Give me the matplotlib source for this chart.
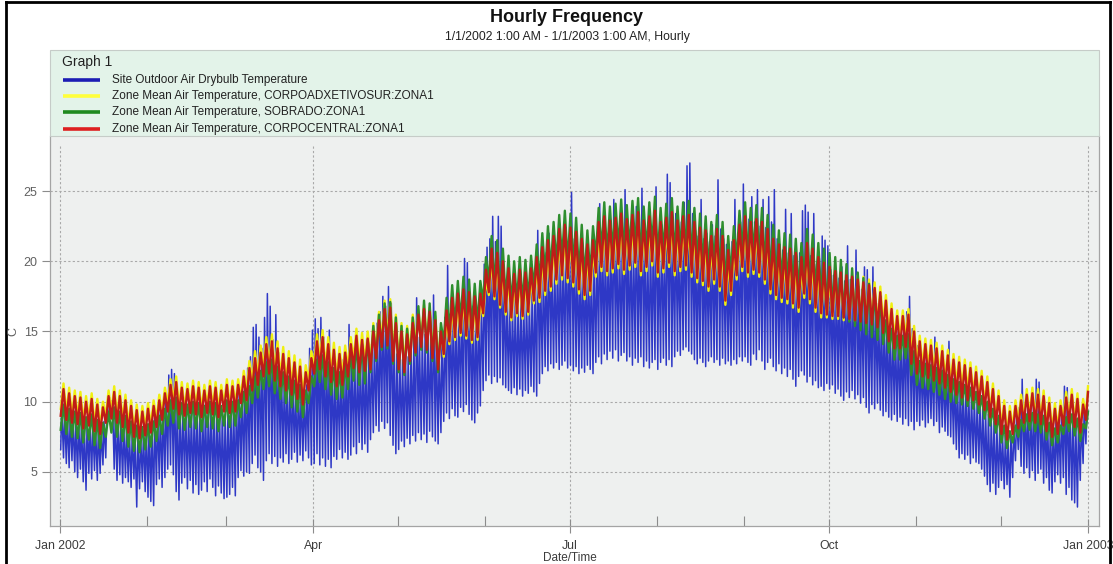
import numpy as np
import matplotlib
matplotlib.use("Agg")
import matplotlib.pyplot as plt
import matplotlib.dates as mdates
from matplotlib.lines import Line2D
from matplotlib.patches import Rectangle
from matplotlib.ticker import FuncFormatter

plt.rcParams['font.family'] = ['Liberation Sans', 'DejaVu Sans']

# ---------------------------------------------------------------------------
# Site outdoor dry-bulb temperature: daily minimum / maximum (deg C), 2002
# one line per month, Jan .. Dec
# ---------------------------------------------------------------------------
OUTDOOR_MIN = [
    6.6, 6.0, 5.6, 5.3, 5.8, 5.0, 4.6, 5.2, 4.3, 3.7, 4.9, 4.5, 5.1, 4.4, 4.9, 5.5, 6.0, 8.6, 8.9, 5.2, 4.4, 4.8, 4.2, 4.6, 4.3, 3.9, 4.5, 2.5, 3.8, 4.3, 3.6,
    3.2, 2.9, 2.6, 4.1, 4.5, 3.9, 4.6, 5.2, 5.5, 4.8, 3.6, 3.0, 4.2, 4.6, 3.8, 4.4, 3.5, 4.1, 3.4, 3.7, 4.3, 3.6, 4.5, 3.9, 3.3, 4.0, 3.5, 3.1,
    3.2, 3.4, 3.9, 3.3, 4.6, 5.1, 4.7, 5.0, 4.9, 5.6, 6.2, 5.3, 5.0, 4.4, 5.8, 6.3, 5.6, 6.1, 5.4, 6.0, 5.7, 6.3, 5.6, 5.9, 6.4, 5.7, 6.2, 5.8, 6.5, 6.0, 5.5,
    5.6, 6.3, 5.5, 6.0, 5.4, 5.9, 5.3, 6.1, 5.9, 6.6, 6.0, 6.4, 5.9, 6.2, 6.8, 6.3, 7.1, 6.6, 7.0, 6.4, 7.3, 7.8, 8.3, 7.9, 8.6, 8.1, 8.5, 7.6, 6.9, 6.3,
    6.6, 7.2, 6.8, 7.4, 7.0, 7.6, 7.2, 7.8, 7.3, 7.7, 7.1, 7.9, 7.5, 7.2, 7.0, 7.8, 8.6, 9.2, 8.8, 9.5, 9.0, 8.9, 9.6, 9.3, 9.8, 9.1, 8.7, 8.5, 9.2, 9.7, 10.8,
    11.5, 11.9, 11.3, 11.8, 11.4, 11.7, 11.2, 11.0, 10.8, 10.6, 11.0, 10.5, 10.9, 10.4, 10.8, 10.6, 11.1, 10.7, 10.4, 11.3, 12.0, 12.5, 12.2, 12.7, 12.4, 12.8, 12.3, 12.6, 12.9, 12.4,
    12.6, 12.2, 12.5, 12.0, 12.4, 12.1, 12.6, 12.3, 12.0, 12.8, 13.2, 12.7, 13.4, 13.0, 13.6, 13.1, 13.7, 12.9, 13.3, 13.5, 12.9, 13.2, 12.6, 13.1, 12.8, 13.2, 12.5, 12.9, 12.4, 12.8, 13.0,
    12.3, 12.8, 13.1, 12.6, 13.0, 12.5, 13.2, 13.6, 13.3, 13.7, 13.9, 13.6, 13.4, 13.0, 12.7, 13.1, 12.8, 12.5, 12.9, 13.2, 12.8, 13.0, 12.6, 13.1, 12.7, 12.9, 12.6, 13.0, 12.7, 13.2, 12.9,
    13.2, 12.8, 12.6, 13.4, 13.0, 13.7, 12.9, 12.3, 12.8, 13.1, 12.5, 12.2, 12.7, 12.0, 12.4, 11.8, 12.3, 11.6, 11.1, 11.8, 12.2, 11.9, 11.4, 11.8, 11.2, 11.5, 11.0, 11.1, 10.8, 11.3,
    10.9, 11.2, 10.6, 10.9, 10.4, 10.1, 10.7, 10.3, 10.8, 10.2, 10.5, 9.9, 10.3, 9.6, 9.2, 9.8, 9.5, 9.9, 9.4, 9.0, 9.3, 8.9, 8.7, 9.1, 8.6, 8.9, 8.4, 8.8, 8.3, 8.6, 8.0,
    8.6, 8.3, 8.7, 8.2, 8.5, 8.8, 8.3, 8.6, 7.8, 8.2, 7.9, 7.6, 7.5, 7.0, 6.6, 6.0, 6.3, 5.9, 6.2, 5.6, 6.0, 5.7, 5.6, 5.2, 4.7, 4.1, 3.6, 4.2, 3.4, 3.9,
    4.4, 3.8, 4.1, 3.2, 4.6, 5.8, 6.6, 5.4, 4.9, 5.3, 4.6, 5.1, 4.4, 4.9, 5.2, 4.2, 4.6, 3.7, 3.5, 4.3, 4.8, 4.2, 4.6, 3.4, 3.9, 3.0, 2.8, 2.5, 4.4, 5.6, 7.0,
]
OUTDOOR_MAX = [
    9.6, 9.3, 9.0, 9.1, 8.8, 8.9, 8.6, 8.7, 8.4, 8.6, 8.8, 8.5, 8.3, 8.2, 8.0, 8.6, 9.2, 10.3, 10.1, 9.0, 8.8, 8.6, 8.4, 8.1, 7.9, 7.7, 7.6, 7.5, 7.6, 7.9, 8.2,
    8.4, 8.6, 8.9, 9.2, 9.4, 9.8, 10.6, 11.9, 12.3, 12.0, 10.2, 9.6, 9.3, 9.5, 9.2, 9.6, 9.4, 9.7, 9.3, 9.5, 9.8, 9.4, 9.6, 9.3, 9.5, 9.2, 9.4, 9.1,
    9.3, 9.6, 10.0, 10.4, 10.8, 11.2, 11.6, 12.4, 13.2, 15.3, 15.5, 14.6, 13.8, 16.0, 17.7, 16.8, 14.4, 16.2, 13.5, 12.4, 11.8, 11.5, 11.9, 11.3, 11.0, 11.4, 10.9, 10.6, 11.2, 13.8, 15.1,
    15.9, 15.2, 16.0, 14.6, 13.5, 15.1, 12.8, 12.4, 12.1, 12.6, 13.0, 12.7, 15.5, 13.1, 13.4, 13.0, 13.6, 13.2, 13.5, 13.8, 14.1, 14.4, 15.6, 16.4, 17.5, 16.8, 18.2, 17.0, 14.6, 13.4,
    13.4, 13.0, 13.6, 13.2, 13.8, 14.4, 17.4, 14.6, 15.0, 14.8, 15.2, 14.9, 17.6, 14.7, 13.8, 14.5, 16.0, 19.7, 16.2, 16.6, 16.4, 16.8, 17.0, 20.2, 19.9, 17.2, 16.8, 16.5, 16.9, 17.3, 19.8,
    21.0, 21.6, 23.2, 21.4, 23.2, 22.5, 18.6, 17.8, 17.4, 17.0, 17.3, 16.9, 17.5, 17.2, 17.6, 17.4, 18.0, 18.8, 22.2, 19.2, 19.8, 20.6, 22.0, 20.4, 19.9, 20.8, 21.3, 20.6, 22.4, 21.2,
    24.9, 21.6, 21.0, 20.4, 20.8, 20.2, 20.6, 20.0, 20.5, 21.4, 24.1, 21.8, 22.2, 21.5, 22.4, 24.4, 21.9, 22.3, 21.8, 25.1, 22.0, 22.5, 21.7, 23.9, 22.2, 25.2, 22.0, 21.6, 22.4, 22.0, 25.3,
    22.0, 22.6, 21.8, 26.2, 25.6, 22.4, 23.4, 22.0, 22.8, 24.2, 26.8, 27.0, 23.4, 22.2, 21.8, 24.4, 21.6, 22.0, 21.4, 22.6, 21.8, 25.8, 22.3, 21.6, 21.2, 20.6, 21.4, 24.4, 22.0, 22.8, 25.5,
    22.6, 23.0, 24.6, 22.8, 25.1, 22.5, 24.4, 22.4, 24.6, 22.8, 25.1, 21.6, 21.2, 20.8, 23.7, 20.6, 23.4, 20.4, 20.0, 20.6, 23.6, 24.0, 23.5, 20.4, 23.4, 19.8, 20.2, 21.8, 21.5, 21.1,
    19.4, 19.0, 19.3, 18.8, 19.6, 18.6, 21.1, 18.7, 18.4, 20.8, 18.2, 18.0, 19.6, 19.4, 17.6, 19.6, 17.3, 17.0, 16.8, 16.4, 16.0, 15.7, 15.4, 15.2, 15.0, 15.3, 15.6, 16.4, 17.5, 15.2, 14.6,
    14.0, 13.4, 13.2, 13.0, 13.3, 13.1, 14.6, 12.9, 12.8, 12.6, 12.4, 14.3, 12.2, 12.0, 11.6, 11.4, 11.2, 11.0, 10.8, 10.5, 10.3, 10.1, 9.9, 9.7, 9.4, 9.1, 8.8, 8.6, 8.3, 8.0,
    7.8, 7.6, 7.4, 7.6, 8.2, 9.0, 9.6, 11.6, 9.8, 9.6, 9.4, 9.7, 11.6, 11.4, 9.5, 9.2, 8.8, 8.5, 8.4, 8.6, 8.9, 9.6, 11.1, 11.0, 9.5, 9.2, 8.8, 8.6, 8.8, 9.3, 9.6,
]

# ---------------------------------------------------------------------------
# Zone mean air temperatures: low / high of each two-day period (deg C)
# ---------------------------------------------------------------------------
SUR_MIN = [
    9.5, 9.2, 9.0, 8.9, 8.6, 8.8, 8.4, 8.2, 9.0, 9.3, 9.0, 8.7, 8.3, 8.0, 7.9, 8.1, 8.3, 8.7, 9.2, 9.8, 10.0, 9.6, 9.5, 9.7, 9.6, 9.4, 9.7, 9.6, 9.4, 9.8, 9.7, 9.8, 10.4,
    10.7, 11.4, 11.8, 12.4, 12.6, 12.1, 11.7, 11.4, 11.1, 10.8, 10.4, 11.4, 12.6, 12.9, 12.4, 12.0, 11.7, 11.8, 12.4, 13.0, 12.7, 12.8,
    12.8, 13.6, 14.4, 14.5, 13.4, 12.8, 12.6, 13.4, 14.0, 14.4, 14.2, 13.6, 12.8,
    13.2, 14.1, 14.4, 14.7, 14.5, 14.2, 14.4, 16.1, 17.6, 17.3, 16.7, 16.2, 15.8, 16.1, 15.9, 16.2, 17.0,
    17.1, 17.6, 17.9, 18.4, 18.7, 18.5, 18.2, 17.7, 17.3, 17.6, 18.9, 19.3, 19.0, 19.2, 19.5, 19.1, 19.4, 19.6, 19.0, 19.3,
    19.7, 18.9, 19.2, 19.6, 19.0, 19.3, 19.4, 18.9, 18.5, 18.3, 17.9, 18.4, 17.9, 16.9, 17.6, 18.7, 19.3, 18.9, 19.1, 18.9,
    18.4, 17.7, 17.3, 17.1, 17.0, 16.7, 16.4, 17.4, 17.0, 16.4, 16.0,
    16.0, 15.9, 15.9, 15.8, 15.8, 15.7, 15.7, 15.6, 15.5, 15.4,
    15.6, 15.0, 14.5, 14.5, 14.6, 13.4, 12.7, 12.5, 12.4, 12.2, 12.0, 11.7, 11.4, 11.2, 11.0, 10.8, 10.5, 10.2, 9.8, 9.3,
    8.8, 8.1, 7.7, 8.1, 8.5, 8.9, 9.0, 8.9, 8.8, 8.3, 7.9, 8.1, 8.7, 8.9, 8.6, 8.2, 9.1,
]
SUR_MAX = [
    11.3, 11.0, 10.8, 10.7, 10.4, 10.6, 10.2, 10.0, 10.8, 11.1, 10.8, 10.5, 10.1, 9.8, 9.7, 9.9, 10.1, 10.5, 11.0, 11.6, 11.8, 11.4, 11.3, 11.5, 11.4, 11.2, 11.5, 11.4, 11.2, 11.6, 11.5, 11.6, 12.2,
    12.9, 13.6, 14.0, 14.6, 14.8, 14.3, 13.9, 13.6, 13.3, 13.0, 12.6, 13.6, 14.8, 15.1, 14.6, 14.2, 13.9, 14.0, 14.6, 15.2, 14.9, 15.0,
    15.6, 16.4, 17.2, 17.3, 16.2, 15.6, 15.4, 16.2, 16.5, 16.9, 16.7, 16.1, 15.3,
    15.8, 16.7, 17.0, 17.3, 17.1, 16.8, 17.0, 18.7, 20.2, 19.9, 19.3, 18.8, 18.4, 18.7, 18.5, 18.8, 19.6,
    20.2, 20.7, 21.0, 21.5, 21.8, 21.6, 21.3, 20.8, 20.4, 20.7, 22.0, 22.4, 22.1, 22.3, 22.6, 22.2, 22.5, 22.7, 22.1, 22.4,
    22.8, 22.0, 22.3, 22.7, 22.1, 22.4, 22.5, 22.0, 21.6, 21.4, 21.0, 21.5, 21.0, 20.0, 20.7, 21.8, 22.4, 22.0, 22.2, 22.0,
    21.5, 20.8, 20.4, 20.2, 20.1, 19.8, 19.5, 20.5, 20.1, 19.5, 19.1,
    19.0, 18.9, 19.0, 19.0, 19.0, 19.0, 18.9, 18.7, 18.5, 18.2,
    17.6, 17.0, 16.5, 16.5, 16.6, 15.4, 14.7, 14.5, 14.4, 14.2, 14.0, 13.7, 13.4, 13.2, 13.0, 12.8, 12.5, 12.2, 11.8, 11.3,
    10.8, 10.1, 9.7, 10.1, 10.5, 10.9, 11.0, 10.9, 10.8, 10.3, 9.9, 10.1, 10.7, 10.9, 10.6, 10.2, 11.1,
]
SOBRADO_MIN = [
    8.0, 7.7, 7.5, 7.4, 7.1, 7.3, 6.9, 6.7, 7.5, 7.8, 7.5, 7.2, 6.8, 6.5, 6.4, 6.6, 6.8, 7.2, 7.7, 8.3, 8.5, 8.1, 8.0, 8.2, 8.1, 7.9, 8.2, 8.1, 7.9, 8.3, 8.2, 8.3, 8.9,
    9.2, 9.9, 10.3, 10.9, 11.1, 10.6, 10.2, 9.9, 9.6, 9.3, 8.9, 9.9, 11.1, 11.4, 10.9, 10.5, 10.2, 10.3, 10.9, 11.5, 11.2, 11.3,
    12.1, 12.9, 13.7, 13.8, 12.7, 12.1, 11.9, 12.7, 13.3, 13.7, 13.5, 12.9, 12.1,
    14.2, 15.1, 15.4, 15.7, 15.5, 15.2, 15.4, 17.1, 18.6, 18.3, 17.7, 17.2, 16.8, 17.1, 16.9, 17.2, 18.0,
    18.5, 19.0, 19.3, 19.8, 20.1, 19.9, 19.6, 19.1, 18.7, 19.0, 20.3, 20.7, 20.4, 20.6, 20.9, 20.5, 20.8, 21.0, 20.4, 20.7,
    21.1, 20.3, 20.6, 21.0, 20.4, 20.7, 20.8, 20.3, 19.9, 19.7, 19.3, 19.8, 19.3, 18.3, 19.0, 20.1, 20.7, 20.3, 20.5, 20.3,
    19.8, 19.1, 18.7, 18.5, 18.4, 18.1, 17.8, 18.8, 18.4, 17.8, 17.4,
    16.6, 16.4, 16.3, 16.0, 15.7, 15.4, 15.1, 14.8, 14.6, 14.4,
    14.1, 13.5, 13.0, 13.0, 13.1, 11.9, 11.2, 11.0, 10.9, 10.7, 10.5, 10.2, 10.0, 9.9, 9.8, 9.7, 9.5, 9.2, 8.8, 8.3,
    7.8, 7.1, 6.7, 7.1, 7.5, 7.9, 8.0, 7.9, 7.8, 7.3, 6.9, 7.1, 7.7, 7.9, 7.6, 7.2, 8.1,
]
SOBRADO_MAX = [
    9.8, 9.5, 9.3, 9.2, 8.9, 9.1, 8.7, 8.5, 9.3, 9.6, 9.3, 9.0, 8.6, 8.3, 8.2, 8.4, 8.6, 9.0, 9.5, 10.1, 10.3, 9.9, 9.8, 10.0, 9.9, 9.7, 10.0, 9.9, 9.7, 10.1, 10.0, 10.1, 10.7,
    11.1, 11.8, 12.2, 12.8, 13.0, 12.5, 12.1, 11.8, 11.5, 11.2, 10.8, 11.8, 13.0, 13.3, 12.8, 12.4, 12.1, 12.6, 13.4, 14.2, 14.1, 14.4,
    15.4, 16.2, 17.0, 17.1, 16.0, 15.4, 15.2, 16.0, 16.8, 17.2, 17.0, 16.4, 15.6,
    17.4, 18.3, 18.6, 18.9, 18.7, 18.4, 18.6, 20.3, 21.8, 21.5, 20.9, 20.4, 20.0, 20.3, 20.1, 20.4, 21.2,
    22.0, 22.5, 22.8, 23.3, 23.6, 23.4, 23.1, 22.6, 22.2, 22.5, 23.8, 24.2, 23.9, 24.1, 24.4, 24.0, 24.3, 24.5, 23.9, 24.2,
    24.6, 23.8, 24.1, 24.5, 23.9, 24.2, 24.3, 23.8, 23.4, 23.2, 22.8, 23.3, 22.8, 21.8, 22.5, 23.6, 24.2, 23.8, 24.0, 23.8,
    23.3, 22.6, 22.2, 22.0, 21.9, 21.6, 21.3, 22.3, 21.9, 21.3, 20.9,
    20.6, 20.3, 20.1, 19.8, 19.5, 19.2, 18.8, 18.4, 18.0, 17.5,
    15.8, 15.2, 14.7, 14.7, 14.8, 13.6, 12.9, 12.7, 12.6, 12.4, 12.2, 11.9, 11.6, 11.4, 11.2, 11.0, 10.7, 10.4, 10.0, 9.5,
    9.0, 8.3, 7.9, 8.3, 8.7, 9.1, 9.2, 9.1, 9.0, 8.5, 8.1, 8.3, 8.9, 9.1, 8.8, 8.4, 9.3,
]
CENTRAL_MIN = [
    9.0, 8.7, 8.5, 8.4, 8.1, 8.3, 7.9, 7.7, 8.5, 8.8, 8.5, 8.2, 7.8, 7.5, 7.4, 7.6, 7.8, 8.2, 8.7, 9.3, 9.5, 9.1, 9.0, 9.2, 9.1, 8.9, 9.2, 9.1, 8.9, 9.3, 9.2, 9.3, 9.9,
    10.1, 10.8, 11.2, 11.8, 12.0, 11.5, 11.1, 10.8, 10.5, 10.2, 9.8, 10.8, 12.0, 12.3, 11.8, 11.4, 11.1, 11.2, 11.8, 12.4, 12.1, 12.2,
    12.3, 13.1, 13.9, 14.0, 12.9, 12.3, 12.1, 12.9, 13.5, 13.9, 13.7, 13.1, 12.3,
    13.4, 14.3, 14.6, 14.9, 14.7, 14.4, 14.6, 16.3, 17.8, 17.5, 16.9, 16.4, 16.0, 16.3, 16.1, 16.4, 17.2,
    17.4, 17.9, 18.2, 18.7, 19.0, 18.8, 18.5, 18.0, 17.6, 17.9, 19.2, 19.6, 19.3, 19.5, 19.8, 19.4, 19.7, 19.9, 19.3, 19.6,
    20.0, 19.2, 19.5, 19.9, 19.3, 19.6, 19.7, 19.2, 18.8, 18.6, 18.2, 18.7, 18.2, 17.2, 17.9, 19.0, 19.6, 19.2, 19.4, 19.2,
    18.7, 18.0, 17.6, 17.4, 17.3, 17.0, 16.7, 17.7, 17.3, 16.7, 16.3,
    16.2, 16.1, 16.1, 16.0, 15.9, 15.8, 15.7, 15.6, 15.5, 15.3,
    14.9, 14.3, 13.8, 13.8, 13.9, 12.7, 12.0, 11.8, 11.7, 11.5, 11.3, 11.0, 10.7, 10.5, 10.3, 10.1, 10.1, 9.8, 9.4, 8.9,
    8.4, 7.7, 7.3, 7.7, 8.1, 8.5, 8.6, 8.5, 8.4, 7.9, 7.5, 7.7, 8.3, 8.5, 8.2, 7.8, 8.7,
]
CENTRAL_MAX = [
    10.9, 10.6, 10.4, 10.3, 10.0, 10.2, 9.8, 9.6, 10.4, 10.7, 10.4, 10.1, 9.7, 9.4, 9.3, 9.5, 9.7, 10.1, 10.6, 11.2, 11.4, 11.0, 10.9, 11.1, 11.0, 10.8, 11.1, 11.0, 10.8, 11.2, 11.1, 11.2, 11.8,
    12.4, 13.1, 13.5, 14.1, 14.3, 13.8, 13.4, 13.1, 12.8, 12.5, 12.1, 13.1, 14.3, 14.6, 14.1, 13.7, 13.4, 13.5, 14.1, 14.7, 14.4, 14.5,
    15.0, 15.8, 16.6, 16.7, 15.6, 15.0, 14.8, 15.6, 16.2, 16.6, 16.4, 15.8, 15.0,
    16.5, 17.4, 17.7, 18.0, 17.8, 17.5, 17.7, 19.4, 20.9, 20.6, 20.0, 19.5, 19.1, 19.4, 19.2, 19.5, 20.3,
    21.0, 21.5, 21.8, 22.3, 22.6, 22.4, 22.1, 21.6, 21.2, 21.5, 22.8, 23.2, 22.9, 23.1, 23.4, 23.0, 23.3, 23.5, 22.9, 23.2,
    23.6, 22.8, 23.1, 23.5, 22.9, 23.2, 23.3, 22.8, 22.4, 22.2, 21.8, 22.3, 21.8, 20.8, 21.5, 22.6, 23.2, 22.8, 23.0, 22.8,
    22.3, 21.6, 21.2, 21.0, 20.9, 20.6, 20.3, 21.3, 20.9, 20.3, 19.9,
    19.6, 19.3, 19.2, 19.0, 18.9, 18.7, 18.5, 18.3, 18.1, 17.8,
    17.2, 16.6, 16.1, 16.1, 16.2, 15.0, 14.3, 14.1, 14.0, 13.8, 13.6, 13.3, 13.0, 12.8, 12.6, 12.4, 12.1, 11.8, 11.4, 10.9,
    10.4, 9.7, 9.3, 9.7, 10.1, 10.5, 10.6, 10.5, 10.4, 9.9, 9.5, 9.7, 10.3, 10.5, 10.2, 9.8, 10.7,
]

SERIES_LABELS = [
    "Site Outdoor Air Drybulb Temperature",
    "Zone Mean Air Temperature, CORPOADXETIVOSUR:ZONA1",
    "Zone Mean Air Temperature, SOBRADO:ZONA1",
    "Zone Mean Air Temperature, CORPOCENTRAL:ZONA1",
]
SERIES_COLORS = ["#2e38c6", "#f0f010", "#2e8e2e", "#c01c18"]
LEGEND_COLORS = ["#1c1cb4", "#ffff3a", "#1f8a1f", "#dd2020"]
YEAR_HOURS = 8760

# ---------------------------------------------------------------------------
W, H = 1113, 564
fig = plt.figure(figsize=(W / 100, H / 100), dpi=100)
fig.patch.set_facecolor("white")


def fx(px):
    return px / W


def fy(py):
    return 1 - py / H


ax = fig.add_axes([fx(50), fy(526), fx(1099) - fx(50), fy(136) - fy(526)])
ax.set_facecolor("#eef0ef")

t0 = mdates.date2num(np.datetime64("2002-01-01T00:00"))


def zigzag(lo, hi, step_h, lo_h, hi_h):
    n = min(len(lo), len(hi))
    k = np.arange(n)
    t = np.empty(2 * n)
    v = np.empty(2 * n)
    t[0::2] = k * step_h + lo_h
    t[1::2] = k * step_h + hi_h
    v[0::2] = np.asarray(lo[:n], float)
    v[1::2] = np.asarray(hi[:n], float)
    t = np.minimum(t, YEAR_HOURS)
    return t0 + t / 24.0, v


# outdoor: one low (early morning) and one high (afternoon) per day
x_out, y_out = zigzag(OUTDOOR_MIN, OUTDOOR_MAX, 24, 6, 15)
ax.plot(x_out, y_out, color=SERIES_COLORS[0], lw=1.1, zorder=2)

zones = [(SUR_MIN, SUR_MAX), (SOBRADO_MIN, SOBRADO_MAX), (CENTRAL_MIN, CENTRAL_MAX)]
for (lo, hi), c in zip(zones, SERIES_COLORS[1:]):
    xz, yz = zigzag(lo, hi, 48, 6, 30)
    ax.plot(xz, yz, color=c, lw=1.7, zorder=3)

# axes limits
ax.set_xlim(t0 - 3.55, t0 + 365 + 3.9)
ax.set_ylim(1.15, 28.92)

# grid
ax.set_yticks([5, 10, 15, 20, 25])
ax.yaxis.grid(True, linestyle=(0, (2, 2)), color="#a9a9a9", lw=0.8)
ax.set_axisbelow(True)
for d in ["2002-01-01", "2002-04-01", "2002-07-01", "2002-10-01", "2003-01-01"]:
    ax.axvline(mdates.date2num(np.datetime64(d)), ymax=0.9766, color="#a9a9a9",
               lw=0.8, linestyle=(0, (2, 2)), zorder=0.5)

# date ticks
ax.xaxis.set_major_locator(mdates.MonthLocator(bymonth=[1, 4, 7, 10]))
ax.xaxis.set_minor_locator(mdates.MonthLocator())


def month_label(v, pos):
    d = mdates.num2date(v)
    return d.strftime("%b %Y") if d.month == 1 else d.strftime("%b")


ax.xaxis.set_major_formatter(FuncFormatter(month_label))
ax.tick_params(axis="x", which="major", direction="inout", length=10, width=0.8,
               color="#8c8c8c", labelsize=8.8, labelcolor="#3c3c3c", pad=5)
ax.tick_params(axis="x", which="minor", direction="in", length=7, width=0.8,
               color="#8c8c8c")
ax.tick_params(axis="y", direction="out", length=6, width=0.8, color="#8c8c8c",
               labelsize=9, labelcolor="#606060", pad=3)

for s in ["left", "bottom", "right"]:
    ax.spines[s].set_color("#a4a4a4")
    ax.spines[s].set_linewidth(0.9)
ax.spines["top"].set_visible(False)

# axis titles
fig.text(fx(570), fy(558), "Date/Time", ha="center", va="center", fontsize=8.5,
         color="#3c3c3c")
fig.text(fx(13), fy(331), "C", ha="center", va="center", fontsize=9,
         color="#606060", rotation=90)

# title block
fig.text(fx(567), fy(17), "Hourly Frequency", ha="center", va="center",
         fontsize=13, fontweight="bold", color="#111111")
fig.text(fx(567), fy(37), "1/1/2002 1:00 AM - 1/1/2003 1:00 AM, Hourly",
         ha="center", va="center", fontsize=8.8, color="#222222")

# legend panel
fig.patches.append(Rectangle((fx(50), fy(136)), fx(1099) - fx(50), fy(50) - fy(136),
                             transform=fig.transFigure, facecolor="#e3f3e9",
                             edgecolor="#c6ccc8", lw=0.8, zorder=0))
fig.text(fx(62), fy(62), "Graph 1", ha="left", va="center", fontsize=10,
         color="#222222")
for i, (lab, c) in enumerate(zip(SERIES_LABELS, LEGEND_COLORS)):
    yy = fy(80 + i * 16.2)
    fig.add_artist(Line2D([fx(63), fx(100)], [yy, yy], transform=fig.transFigure,
                          color=c, lw=2.6, solid_capstyle="butt"))
    fig.text(fx(112), yy, lab, ha="left", va="center", fontsize=8.5,
             color="#222222")

# outer frame
for xs, ys in [([6, 6], [2, H]), ([6, 1110], [2, 2]), ([1110, 1110], [2, H])]:
    fig.add_artist(Line2D([fx(v) for v in xs], [fy(v) for v in ys],
                          transform=fig.transFigure, color="black", lw=2.0))

fig.savefig("out.png", dpi=100, facecolor="white")
